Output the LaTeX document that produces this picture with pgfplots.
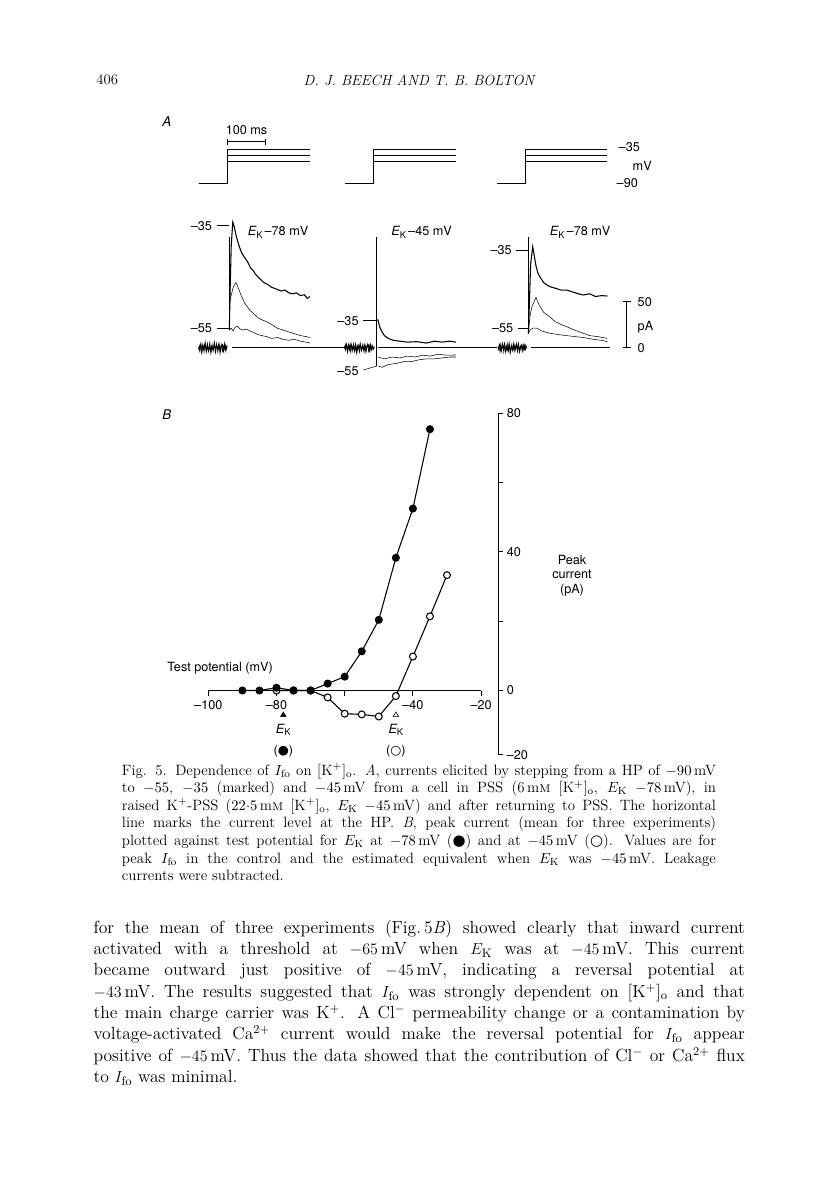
\documentclass[border=0pt]{standalone}
\usepackage{pgfplots}
\pgfplotsset{compat=1.18}
\usepackage{fontspec}
\setsansfont{TeX Gyre Heros}
\newfontfamily\dejavu{DejaVu Sans}

\newcommand\Ifo{$I_{\mathrm{fo}}$}
\newcommand\Ko{[K$^{+}$]$_{\mathrm{o}}$}
\newcommand\EK{$E_{\mathrm{K}}$}
\newcommand\fig{\sffamily\fontsize{9.5}{11}\selectfont}
\newcommand\ek{{\itshape E}\raisebox{-0.35ex}{\fontsize{7}{8}\selectfont K}}
\newcommand\capline[1]{\makebox[445.5pt][s]{#1}}
\newcommand\txtline[1]{\makebox[488.5pt][s]{#1}}

% axes are placed in pt: reference pixel * 0.75
\pgfplotsset{
  trace/.style={scale only axis, hide axis, clip=false,
    anchor=south west, xmin=-80, xmax=320, width=115.2pt,
    cycle list={{black, line width=0.8pt, mark=none}}},
  cur/.style={trace, ymin=-40, ymax=160, height=139.5pt},
  volt/.style={trace, ymin=-100, ymax=-20, height=37.4pt},
}

\begin{document}
\begin{tikzpicture}[x=0.75pt,y=0.75pt]
\useasboundingbox (0,0) rectangle (816,-1183);
\fill[white] (0,0) rectangle (816,-1183);

% running head
\node[anchor=west, font=\fontsize{11}{13}\selectfont] at (91.7,-80) {406};
\node[font=\fontsize{11}{13}\selectfont\itshape] at (419,-80) {D. J. BEECH AND T. B. BOLTON};

% ---- A: voltage steps
\node[font=\sffamily\itshape\fontsize{10}{12}\selectfont] at (166.7,-121.7) {A};
\begin{axis}[volt, at={(147.45pt,-142.125pt)}]
\addplot coordinates {(-75,-90) (0,-90) (0,-35) (215,-35)};
\addplot coordinates {(0,-45) (215,-45)};
\addplot coordinates {(0,-55) (215,-55)};
\addplot[black, line width=0.8pt, mark=|, mark size=2.2pt] coordinates {(0,-23.3) (100,-23.3)};
\node[font=\fig] at (axis cs:50,-4.5) {100 ms};
\end{axis}
\begin{axis}[volt, at={(256.95pt,-142.125pt)}]
\addplot coordinates {(-75,-90) (0,-90) (0,-35) (215,-35)};
\addplot coordinates {(0,-45) (215,-45)};
\addplot coordinates {(0,-55) (215,-55)};
\end{axis}
\begin{axis}[volt, at={(371.25pt,-142.125pt)}]
\addplot coordinates {(-74,-90) (0,-90) (0,-35) (212,-35)};
\addplot coordinates {(0,-45) (212,-45)};
\addplot coordinates {(0,-55) (212,-55)};
\end{axis}
\node[anchor=west, font=\fig] at (614,-146.7) {--35};
\node[anchor=west, font=\fig] at (628,-165.7) {mV};
\node[anchor=west, font=\fig] at (612,-182.7) {--90};

% ---- A: currents, E_K -78 mV
\begin{axis}[cur, at={(148.95pt,-288.675pt)}]
\addplot coordinates {(-80,1) (-77,-4) (-74,5) (-71,-2) (-69,4) (-66,-5) (-63,2) (-60,-1) (-57,5) (-54,-4) (-51,2) (-48,-3) (-45,4) (-42,-4) (-39,3) (-36,-1) (-33,5) (-30,-5) (-27,2) (-24,-2) (-21,4) (-18,-4) (-15,2) (-12,-2) (-9,3) (-6,0)};
\addplot coordinates {(-80,-2) (-76,3) (-72,-5) (-69,2) (-66,-1) (-63,5) (-60,-4) (-57,1) (-54,-3) (-51,4) (-48,-5) (-45,1) (-42,-2) (-39,5) (-36,-4) (-33,2) (-30,-1) (-27,4) (-24,-5) (-21,1) (-18,3) (-15,-3) (-12,4) (-9,-3) (-6,2)};
\addplot coordinates {(6,0) (300,0)};
\addplot coordinates {(0,19) (0,119)};
\addplot coordinates {(0,19) (2,60) (5,110) (9,135) (13,130) (18,120) (25,110) (32,102) (40,97) (48,92) (55,86) (62,83) (70,78) (80,74) (90,70) (100,68) (110,65) (123,63) (135,61) (145,62) (155,59) (166,58) (175,59) (185,56) (195,57) (203,53) (210,55)};
\addplot coordinates {(0,44) (4,55) (10,65) (17,70) (22,66) (30,57) (40,48) (54,40) (65,36) (75,32) (85,30) (97,28) (110,25) (125,21) (140,19) (155,17) (170,15) (185,13) (200,12) (210,11)};
\addplot coordinates {(0,19) (5,21) (10,18) (15,22) (21,23) (28,20) (35,19) (45,20) (54,18) (65,16) (75,14) (85,13) (97,12) (110,10) (125,11) (140,9) (155,8) (170,9) (185,7) (200,6) (210,5)};
\addplot coordinates {(-33,131) (0,131)};
\addplot coordinates {(-33,21) (0,21)};
\node[anchor=east, font=\fig] at (axis cs:-33,131) {--35};
\node[anchor=east, font=\fig] at (axis cs:-33,21) {--55};
\node[font=\fig] at (axis cs:127,124) {\ek\,--78 mV};
\end{axis}

% ---- A: currents, E_K -45 mV
\begin{axis}[cur, at={(259.5pt,-288.675pt)}]
\addplot coordinates {(-84,2) (-81,-3) (-78,4) (-75,-2) (-72,3) (-69,-5) (-66,3) (-63,-1) (-60,5) (-57,-4) (-54,2) (-51,-3) (-48,3) (-45,-5) (-42,3) (-39,-1) (-36,4) (-33,-5) (-30,2) (-27,-2) (-24,4) (-21,-4) (-18,3) (-15,-3) (-12,3) (-9,-2) (-6,1)};
\addplot coordinates {(-84,-1) (-80,4) (-76,-4) (-73,3) (-70,-2) (-67,4) (-64,-3) (-61,2) (-58,-3) (-55,3) (-52,-5) (-49,2) (-46,-1) (-43,4) (-40,-3) (-37,1) (-34,-2) (-31,3) (-28,-4) (-25,2) (-22,3) (-19,-3) (-16,3) (-13,-2) (-10,1) (-7,-1)};
\addplot coordinates {(3,0) (313,0)};
\addplot coordinates {(0,119) (0,-20)};
\addplot coordinates {(0,30) (3,30) (8,22) (14,17) (20,13) (30,10) (43,8) (60,7) (80,6) (104,6.5) (130,5) (150,7) (170,6) (190,7) (206,6)};
\addplot coordinates {(3,-10) (20,-12) (40,-10) (60,-11) (80,-9) (100,-10) (120,-8) (140,-9) (160,-7) (180,-8) (206,-7.8)};
\addplot coordinates {(5,-20) (15,-21) (30,-18) (50,-17) (70,-15) (90,-15) (110,-13) (130,-12) (150,-12) (170,-11) (190,-10) (206,-10)};
\addplot coordinates {(-35,29) (0,29)};
\addplot coordinates {(-35,-24) (0,-19.7)};
\node[anchor=east, font=\fig] at (axis cs:-35,29) {--35};
\node[anchor=east, font=\fig] at (axis cs:-35,-25.5) {--55};
\node[font=\fig] at (axis cs:117,124) {\ek\,--45 mV};
\end{axis}

% ---- A: currents, back in PSS
\begin{axis}[cur, at={(373.2pt,-288.675pt)}]
\addplot coordinates {(-79,2) (-76,-4) (-73,4) (-70,-3) (-67,5) (-64,-5) (-61,2) (-58,-2) (-55,5) (-52,-4) (-49,3) (-46,-3) (-43,4) (-40,-4) (-37,3) (-34,-2) (-31,5) (-28,-5) (-25,2) (-22,-3) (-19,3) (-16,-4) (-13,3) (-10,-2) (-7,3) (-4,0)};
\addplot coordinates {(-79,-2) (-75,3) (-71,-4) (-68,3) (-65,-1) (-62,4) (-59,-4) (-56,1) (-53,-3) (-50,4) (-47,-5) (-44,1) (-41,-2) (-38,4) (-35,-3) (-32,2) (-29,-1) (-26,4) (-23,-4) (-20,1) (-17,3) (-14,-3) (-11,3) (-8,-2) (-5,1)};
\addplot coordinates {(7,0) (213,0)};
\addplot coordinates {(0,15.5) (0,119)};
\addplot coordinates {(0,15) (3,50) (6,90) (11.5,108.6) (15,100) (20,88) (25,80) (30.5,76) (40,70) (50,67) (56.5,65.6) (70,64) (85,62) (100,62) (115,60) (130,58) (143,56.7) (160,58) (175,55) (190,56) (205.7,55.6)};
\addplot coordinates {(0,15) (4,33) (10,45) (20,54) (28,46) (40,38) (56.5,33) (70,28) (85,25) (100,22.6) (120,19) (143,15.5) (160,13) (180,12) (205.7,10)};
\addplot coordinates {(0,15) (4.4,19) (12,21) (22,21) (35,18) (56.5,15.5) (80,14) (100,13) (120,12) (143,11) (170,9) (190,8) (205.7,6.5)};
\addplot coordinates {(-31,105) (0,105)};
\addplot coordinates {(-27,21) (0,21)};
\addplot[black, line width=0.8pt, mark=-, mark size=3pt] coordinates {(256,0) (256,50)};
\node[anchor=east, font=\fig] at (axis cs:-31,105) {--35};
\node[anchor=east, font=\fig] at (axis cs:-27,21) {--55};
\node[font=\fig] at (axis cs:135,124) {\ek\,--78 mV};
\end{axis}
\node[anchor=west, font=\fig] at (633,-301.7) {50};
\node[anchor=west, font=\fig] at (633,-327) {pA};
\node[anchor=west, font=\fig] at (633,-348) {0};

% ---- B: peak current vs test potential
\node[font=\sffamily\itshape\fontsize{10}{12}\selectfont] at (166.7,-415) {B};
\begin{axis}[
  at={(156.225pt,-565.95pt)}, anchor=south west,
  scale only axis, width=217.4pt, height=256pt,
  xmin=-100, xmax=-15, ymin=-18.5, ymax=80,
  axis x line=middle, axis y line=right,
  x axis line style={draw=none},
  y axis line style={-, line width=0.8pt},
  tick align=outside,
  major tick length=3.8pt, minor tick length=3.8pt,
  tick style={black, line width=0.8pt},
  xtick={-100,-80,-60,-40,-20},
  xticklabels={--100,--80,,--40,--20},
  ytick={-18.5,0,40,80}, minor ytick={20,60},
  yticklabels={--20,0,40,80},
  tick label style={font=\fig},
  yticklabel style={inner sep=0.5pt, xshift=2pt},
  clip=false,
]
\addplot[black, line width=0.8pt, mark=none] coordinates {(-100,0) (-20,0)};
\addplot[black, line width=0.8pt, mark=*, mark size=2.6pt, mark options={fill=white}] coordinates {
  (-80,0) (-75,0) (-70,0) (-65,-2) (-60,-6.7) (-55,-6.9) (-50,-7.5)
  (-45,-1.6) (-40,9.8) (-35,21.4) (-30,33.3)};
\addplot[black, line width=0.8pt, mark=*, mark size=2.6pt, mark options={fill=black}] coordinates {
  (-90,0) (-85,0) (-80,0.8) (-75,0) (-70,0) (-65,2) (-60,4) (-55,11.3)
  (-50,20.4) (-45,38.3) (-40,52.5) (-35,75.4)};
\addplot[only marks, mark=triangle*, mark size=2.4pt, mark options={fill=black}] coordinates {(-78,-7.1)};
\addplot[only marks, mark=triangle*, mark size=2.4pt, mark options={fill=white, draw=black}] coordinates {(-45,-7.1)};
\node[font=\fig] at (axis cs:-78,-11.3) {\ek};
\node[font=\fig] at (axis cs:-45,-11.3) {\ek};
\node[font=\fig] at (axis cs:-78,-17.4) {({\dejavu ●})};
\node[font=\fig] at (axis cs:-45,-17.4) {({\dejavu ○})};
\end{axis}
\node[anchor=west, font=\fig] at (162.7,-668.3) {Test potential (mV)};
\node[align=center, font=\sffamily\fontsize{9.5}{10.9}\selectfont] at (572,-575.7) {Peak\\current\\(pA)};

% ---- caption
\begin{scope}[every node/.style={anchor=base west, inner sep=0pt, font=\fontsize{11.2}{13}\selectfont}]
\node at (121.7,-775) {\capline{Fig. 5. Dependence of \Ifo{} on \Ko. \textit{A}, currents elicited by stepping from a HP of $-90$\,mV}};
\node at (121.7,-792.6) {\capline{to $-55$, $-35$ (marked) and $-45$\,mV from a cell in PSS (6\,m\textsc{m} \Ko, \EK{} $-78$\,mV), in}};
\node at (121.7,-810.2) {\capline{raised K$^{+}$-PSS ($22{\cdot}5$\,m\textsc{m} \Ko, \EK{} $-45$\,mV) and after returning to PSS. The horizontal}};
\node at (121.7,-827.8) {\capline{line marks the current level at the HP. \textit{B}, peak current (mean for three experiments)}};
\node at (121.7,-845.4) {\capline{plotted against test potential for \EK{} at $-78$\,mV ({\dejavu ●}) and at $-45$\,mV ({\dejavu ○}). Values are for}};
\node at (121.7,-863) {\capline{peak \Ifo{} in the control and the estimated equivalent when \EK{} was $-45$\,mV. Leakage}};
\node at (121.7,-880.6) {currents were subtracted.};
\end{scope}

% ---- running text
\begin{scope}[every node/.style={anchor=base west, inner sep=0pt, font=\fontsize{13.2}{16}\selectfont}]
\node at (93.3,-933) {\txtline{for the mean of three experiments (Fig.\,5\textit{B}) showed clearly that inward current}};
\node at (93.3,-954.3) {\txtline{activated with a threshold at $-65$\,mV when \EK{} was at $-45$\,mV. This current}};
\node at (93.3,-975.7) {\txtline{became outward just positive of $-45$\,mV, indicating a reversal potential at}};
\node at (93.3,-997) {\txtline{$-43$\,mV. The results suggested that \Ifo{} was strongly dependent on \Ko{} and that}};
\node at (93.3,-1018.3) {\txtline{the main charge carrier was K$^{+}$. A Cl$^{-}$ permeability change or a contamination by}};
\node at (93.3,-1039.7) {\txtline{voltage-activated Ca$^{2+}$ current would make the reversal potential for \Ifo{} appear}};
\node at (93.3,-1061) {\txtline{positive of $-45$\,mV. Thus the data showed that the contribution of Cl$^{-}$ or Ca$^{2+}$ flux}};
\node at (93.3,-1082.3) {to \Ifo{} was minimal.};
\end{scope}
\end{tikzpicture}
\end{document}
